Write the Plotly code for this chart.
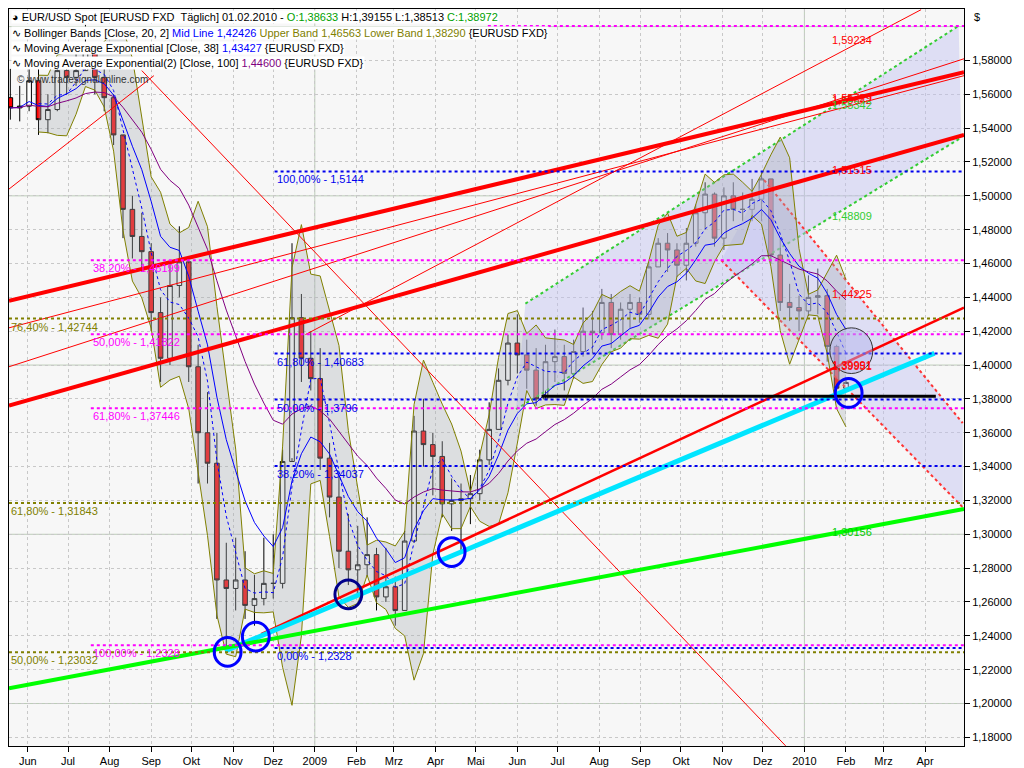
import pandas as pd
import plotly.graph_objects as go

# weekly EUR/USD candles (week starting Monday)
weeks = pd.date_range("2008-05-19", "2010-02-01", freq="7D")
first_open = 1.558
close = [1.552, 1.553, 1.568, 1.545, 1.551, 1.574, 1.570, 1.574, 1.585, 1.570, 1.558, 1.536, 1.492, 1.476, 1.467,
         1.431, 1.404, 1.447, 1.461, 1.399, 1.360, 1.342, 1.273, 1.268, 1.273, 1.258, 1.262, 1.271, 1.271, 1.343,
         1.428, 1.404, 1.392,
         1.345, 1.322, 1.290, 1.279, 1.282, 1.288, 1.263, 1.269, 1.255, 1.296, 1.361, 1.353, 1.346, 1.318, 1.320,
         1.321, 1.324, 1.344, 1.362, 1.391, 1.413, 1.406, 1.397, 1.380, 1.402, 1.405, 1.395, 1.408, 1.420, 1.419,
         1.437, 1.418, 1.433, 1.437, 1.430, 1.458, 1.472, 1.468, 1.459, 1.472, 1.490, 1.501, 1.475, 1.500, 1.492,
         1.492, 1.498, 1.510, 1.465, 1.437, 1.434, 1.432,
         1.440, 1.441, 1.411, 1.38633, 1.38972]
high = [1.575, 1.565, 1.580, 1.578, 1.560, 1.580, 1.582, 1.590, 1.601, 1.590, 1.575, 1.560, 1.535, 1.500, 1.490,
        1.472, 1.440, 1.460, 1.482, 1.460, 1.412, 1.384, 1.360, 1.295, 1.298, 1.290, 1.276, 1.298, 1.300, 1.350,
        1.472, 1.442, 1.420,
        1.410, 1.354, 1.334, 1.312, 1.305, 1.310, 1.292, 1.292, 1.275, 1.302, 1.370, 1.380, 1.360, 1.355, 1.333,
        1.330, 1.335, 1.350, 1.378, 1.398, 1.418, 1.430, 1.415, 1.410, 1.412, 1.421, 1.412, 1.415, 1.434, 1.432,
        1.445, 1.442, 1.437, 1.442, 1.440, 1.461, 1.475, 1.478, 1.472, 1.481, 1.495, 1.508, 1.502, 1.505, 1.508,
        1.502, 1.510, 1.514, 1.510, 1.475, 1.448, 1.441,
        1.453, 1.457, 1.445, 1.412, 1.39155]
low = [1.545, 1.544, 1.550, 1.536, 1.537, 1.550, 1.560, 1.565, 1.575, 1.560, 1.550, 1.530, 1.475, 1.463, 1.455,
       1.420, 1.390, 1.400, 1.440, 1.390, 1.330, 1.330, 1.250, 1.233, 1.255, 1.250, 1.246, 1.258, 1.262, 1.268,
       1.345, 1.390, 1.385,
       1.338, 1.310, 1.280, 1.270, 1.265, 1.275, 1.255, 1.260, 1.246, 1.255, 1.295, 1.340, 1.323, 1.310, 1.302,
       1.290, 1.306, 1.320, 1.341, 1.362, 1.388, 1.395, 1.386, 1.376, 1.385, 1.390, 1.385, 1.392, 1.405, 1.407,
       1.415, 1.410, 1.415, 1.422, 1.425, 1.427, 1.458, 1.455, 1.452, 1.450, 1.470, 1.480, 1.470, 1.468, 1.485,
       1.485, 1.485, 1.485, 1.460, 1.432, 1.426, 1.420,
       1.429, 1.430, 1.402, 1.385, 1.38513]
opens = [first_open] + close[:-1]

# drawn trend lines: (date0, price0, date1, price1, colour, width, dash)
trend_lines = [
    ("2008-05-18", 1.438, "2010-04-30", 1.573, "#ff0000", 4, "solid"),
    ("2008-05-18", 1.376, "2010-04-30", 1.536, "#ff0000", 4, "solid"),
    ("2008-05-18", 1.399, "2010-04-30", 1.581, "#ff0000", 1, "solid"),
    ("2008-05-18", 1.422, "2010-04-30", 1.571, "#ff0000", 1, "solid"),
    ("2008-05-18", 1.504, "2008-09-03", 1.571, "#ff0000", 1, "solid"),
    ("2008-12-25", 1.418, "2010-03-29", 1.610, "#ff0000", 1, "solid"),
    ("2008-08-25", 1.574, "2009-12-18", 1.175, "#ff0000", 1, "solid"),
    ("2008-11-22", 1.241, "2010-04-30", 1.434, "#ff0000", 2.5, "solid"),
    ("2008-10-26", 1.231, "2010-04-08", 1.407, "#00e5ff", 5, "solid"),
    ("2008-05-18", 1.209, "2010-04-30", 1.315, "#00ff00", 4, "solid"),
    ("2009-06-19", 1.3815, "2010-04-09", 1.3815, "#000000", 3, "solid"),
]
# channels: upper line, lower line, edge colour
channels = [
    (("2009-06-07", 1.4363, "2010-04-26", 1.6004), ("2009-05-31", 1.3739, "2010-04-28", 1.5344), "#33cc33"),
    (("2009-12-02", 1.5093, "2010-04-29", 1.3657), ("2009-10-31", 1.462, "2010-04-29", 1.316), "#ff3333"),
]

# fibonacci levels: price, start date, colour, label
levels = [
    (1.5144, "2008-12-02", "#0000ee", "100,00% - 1,5144"),
    (1.40683, "2008-12-02", "#0000ee", "61,80% - 1,40683"),
    (1.3796, "2008-12-02", "#0000ee", "50,00% - 1,3796"),
    (1.34037, "2008-12-02", "#0000ee", "38,20% - 1,34037"),
    (1.2328, "2008-12-02", "#0000ee", "0,00% - 1,2328"),
    (1.46199, "2008-07-18", "#ff00ff", "38,20% - 1,46199"),
    (1.41822, "2008-07-18", "#ff00ff", "50,00% - 1,41822"),
    (1.37446, "2008-07-18", "#ff00ff", "61,80% - 1,37446"),
    (1.2345, "2008-07-18", "#ff00ff", "100,00% - 1,2328"),
    (1.6004, "2009-05-10", "#ff00ff", ""),
    (1.42744, "2008-05-18", "#808000", "76,40% - 1,42744"),
    (1.31843, "2008-05-18", "#808000", "61,80% - 1,31843"),
    (1.23032, "2008-05-18", "#808000", "50,00% - 1,23032"),
]
right_labels = [
    (1.5923, "#ff0000", "1,59234"), (1.5578, "#ff0000", "1,55779"), (1.5564, "#ff0000", "1,55642"),
    (1.5534, "#33cc33", "1,55342"), (1.51515, "#ff0000", "1,51515"), (1.48809, "#33cc33", "1,48809"),
    (1.44225, "#ff0000", "1,44225"), (1.39951, "#ff0000", "1,39951"), (1.39991, "#ff0000", "1,39991"),
    (1.30156, "#00cc00", "1,30156"),
]
circles = [("2008-10-28", 1.2305, "#0000ff"), ("2008-11-18", 1.2395, "#0000ff"),
           ("2009-01-26", 1.2645, "#00008b"), ("2009-04-13", 1.2895, "#0000ff"),
           ("2010-02-03", 1.3835, "#0000ff")]

month_ticks = pd.date_range("2008-06-01", "2010-04-01", freq="MS")
month_names = ["Jan", "Feb", "Mrz", "Apr", "Mai", "Jun", "Jul", "Aug", "Sep", "Okt", "Nov", "Dez"]
month_text = [str(d.year) if d.month == 1 else month_names[d.month - 1] for d in month_ticks]
price_ticks = [round(1.18 + 0.02 * i, 2) for i in range(21)]

s = pd.Series(close)
bb_mid = s.rolling(4).mean()
bb_std = s.rolling(4).std(ddof=0)
bb_up = bb_mid + 2 * bb_std
bb_lo = bb_mid - 2 * bb_std
ema38 = s.ewm(span=8, adjust=False).mean()
ema100 = s.ewm(span=20, adjust=False).mean()

fig = go.Figure()

for up, lo, col in channels:
    fig.add_trace(go.Scatter(x=[up[0], up[2], lo[2], lo[0], up[0]], y=[up[1], up[3], lo[3], lo[1], up[1]],
                             fill="toself", fillcolor="rgba(190,190,240,0.45)", line=dict(width=0),
                             mode="lines", hoverinfo="skip"))
    for ln in (up, lo):
        fig.add_trace(go.Scatter(x=[ln[0], ln[2]], y=[ln[1], ln[3]], mode="lines",
                                 line=dict(color=col, width=2, dash="dot"), hoverinfo="skip"))

fig.add_trace(go.Scatter(x=weeks, y=bb_up, mode="lines", line=dict(color="#808000", width=1)))
fig.add_trace(go.Scatter(x=weeks, y=bb_lo, mode="lines", line=dict(color="#808000", width=1),
                         fill="tonexty", fillcolor="rgba(170,175,180,0.35)"))
fig.add_trace(go.Scatter(x=weeks, y=bb_mid, mode="lines", line=dict(color="#0000ff", width=1, dash="dot")))
fig.add_trace(go.Scatter(x=weeks, y=ema38, mode="lines", line=dict(color="#0000ff", width=1)))
fig.add_trace(go.Scatter(x=weeks, y=ema100, mode="lines", line=dict(color="#800080", width=1)))

fig.add_trace(go.Candlestick(x=weeks, open=opens, high=high, low=low, close=close, whiskerwidth=0,
                             increasing=dict(line=dict(color="black", width=1), fillcolor="white"),
                             decreasing=dict(line=dict(color="black", width=1), fillcolor="#ff0000")))

for d0, p0, d1, p1, col, w, dash in trend_lines:
    fig.add_trace(go.Scatter(x=[d0, d1], y=[p0, p1], mode="lines",
                             line=dict(color=col, width=w, dash=dash), hoverinfo="skip"))

shapes = []
for yv in (1.20, 1.30, 1.40, 1.50, 1.60):
    shapes.append(dict(type="line", xref="paper", x0=0, x1=1, y0=yv, y1=yv, layer="below",
                       line=dict(color="#bccdb8", width=1)))
for xv in ("2009-01-01", "2010-01-01"):
    shapes.append(dict(type="line", yref="paper", x0=xv, x1=xv, y0=0, y1=1, layer="below",
                       line=dict(color="#bccdb8", width=1)))
annotations = []
for price, start, col, label in levels:
    shapes.append(dict(type="line", x0=start, x1="2010-04-30", y0=price, y1=price,
                       line=dict(color=col, width=2, dash="dot")))
    if label:
        annotations.append(dict(x=start, y=price, text=label, showarrow=False, xanchor="left", yanchor="top",
                                font=dict(color=col, size=11)))
for d, p, col in circles:
    dd = pd.Timestamp(d)
    shapes.append(dict(type="circle", x0=dd - pd.Timedelta(days=10), x1=dd + pd.Timedelta(days=10),
                       y0=p - 0.0085, y1=p + 0.0085, line=dict(color=col, width=3)))
dd = pd.Timestamp("2010-02-05")
shapes.append(dict(type="circle", x0=dd - pd.Timedelta(days=16), x1=dd + pd.Timedelta(days=16),
                   y0=1.4085 - 0.0135, y1=1.4085 + 0.0135, fillcolor="rgba(180,180,235,0.5)",
                   line=dict(color="#333333", width=1)))

for p, col, label in right_labels:
    annotations.append(dict(x="2010-01-20", y=p, text=label, showarrow=False, xanchor="left",
                            font=dict(color=col, size=11)))

legend_lines = [
    "&#9685; EUR/USD Spot [EURUSD FXD  Täglich] 01.02.2010 - <span style='color:#00a000'>O:1,38633</span> "
    "H:1,39155 L:1,38513 <span style='color:#00a000'>C:1,38972</span>",
    "&#8767; Bollinger Bands [Close, 20, 2] <span style='color:#0000ff'>Mid Line 1,42426</span> "
    "<span style='color:#808000'>Upper Band 1,46563 Lower Band 1,38290</span> {EURUSD FXD}",
    "&#8767; Moving Average Exponential [Close, 38] <span style='color:#0000ff'>1,43427</span> {EURUSD FXD}",
    "&#8767; Moving Average Exponential(2) [Close, 100] <span style='color:#800080'>1,44600</span> {EURUSD FXD}",
]
for i, txt in enumerate(legend_lines):
    annotations.append(dict(xref="paper", yref="paper", x=0.002, y=1 - 0.002 - i * 0.0205, text=txt,
                            showarrow=False, xanchor="left", yanchor="top", bgcolor="white",
                            font=dict(color="black", size=11), borderpad=0))
annotations.append(dict(xref="paper", yref="paper", x=0.006, y=0.915, text="© www.tradesignalonline.com",
                        showarrow=False, xanchor="left", yanchor="top", font=dict(color="#333333", size=10)))
annotations.append(dict(xref="paper", yref="paper", x=1.008, y=1.0, text="$", showarrow=False,
                        xanchor="left", yanchor="top", font=dict(color="black", size=11)))

fig.update_layout(
    width=1024, height=768, showlegend=False,
    margin=dict(l=1, r=68, t=1, b=30),
    paper_bgcolor="white", plot_bgcolor="#f7f7f7",
    font=dict(family="Liberation Sans", size=11, color="black"),
    shapes=shapes, annotations=annotations,
    xaxis=dict(type="date", range=["2008-05-18", "2010-04-30"], tickvals=month_ticks, ticktext=month_text,
               ticks="outside", ticklen=5, tickcolor="black", showline=True, linecolor="black", mirror=True,
               showgrid=True, gridcolor="#c8c8c8", griddash="dot", zeroline=False,
               rangeslider=dict(visible=False), tickfont=dict(size=11)),
    yaxis=dict(range=[1.1749, 1.6104], side="right", tickvals=price_ticks,
               ticktext=[f"{v:.5f}".replace(".", ",") for v in price_ticks],
               ticks="outside", ticklen=5, tickcolor="black", showline=True, linecolor="black", mirror=True,
               showgrid=True, gridcolor="#c8c8c8", griddash="dot", zeroline=False, tickfont=dict(size=11)),
)

fig.write_html("out.html")
